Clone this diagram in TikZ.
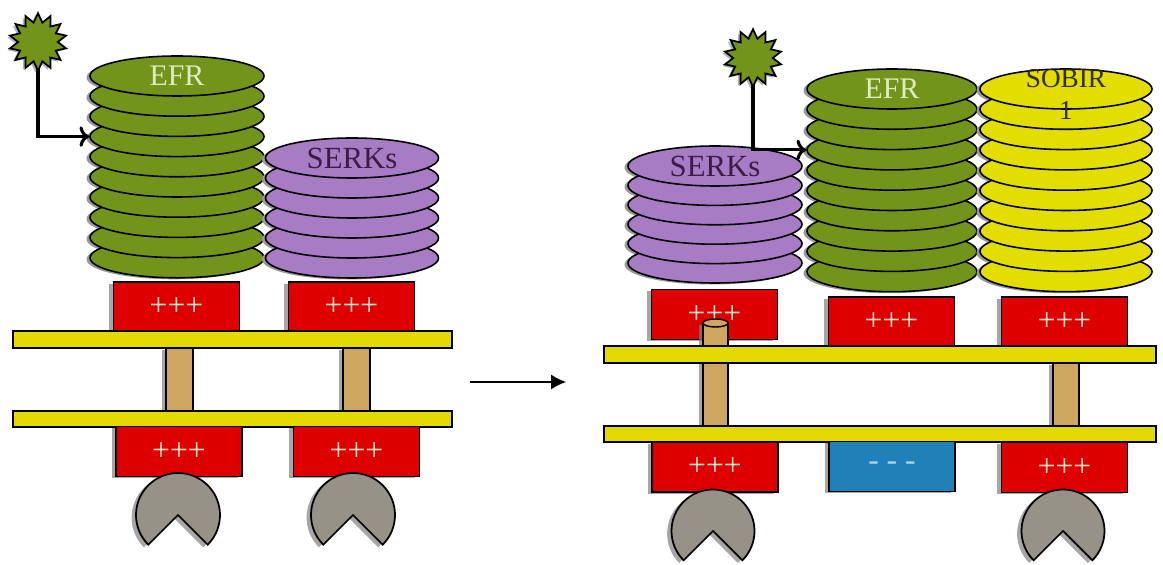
\documentclass[tikz,border=0pt]{standalone}
\usepackage{fontspec}
\setmainfont{Liberation Serif}
\usepackage{tikz}
\usepackage{xcolor}
\usetikzlibrary{positioning, shapes, shadows, arrows, arrows.meta}

\definecolor{efrgreen}{RGB}{114,148,26}
\definecolor{serkpurple}{RGB}{168,124,196}
\definecolor{sobiryellow}{RGB}{228,222,0}
\definecolor{boxred}{RGB}{222,0,0}
\definecolor{membrane}{RGB}{226,218,0}
\definecolor{stalk}{RGB}{206,166,96}
\definecolor{jawgray}{RGB}{150,146,136}
\definecolor{minusblue}{RGB}{32,128,184}
\definecolor{pluscream}{RGB}{255,230,205}
\definecolor{efrtext}{RGB}{222,236,196}
\definecolor{serktext}{RGB}{60,28,70}
\definecolor{sobirtext}{RGB}{50,46,0}

\tikzset{
    disk/.style={ellipse, draw=black, line width=0.9pt, inner sep=0pt, minimum height=0.8cm},
    charge/.style={rectangle, draw=black, line width=0.8pt, fill=boxred, minimum width=2.52cm, minimum height=1cm,
        text=pluscream, font=\fontsize{18}{18}\selectfont,
        drop shadow={shadow xshift=-2.5pt, shadow yshift=-1pt, opacity=0.7}},
    bar/.style={fill=membrane, draw=black, line width=0.8pt},
    stem/.style={fill=stalk, draw=black, line width=0.8pt,
        drop shadow={shadow xshift=-2.5pt, shadow yshift=-1pt, opacity=0.7}},
    jaw/.style={fill=jawgray, draw=black, line width=1pt,
        drop shadow={shadow xshift=-2.5pt, shadow yshift=-1.5pt, opacity=0.7}},
    spark/.style={star, star points=14, star point ratio=1.45, minimum size=1.15cm, inner sep=0pt,
        fill=efrgreen, draw=black, line width=1pt,
        drop shadow={shadow xshift=-1.5pt, shadow yshift=-1pt, opacity=0.6}},
    signal/.style={line width=1.8pt, ->}
}

% name, x, y of top disk, step, number of disks, width, fill
\newcommand{\diskstack}[7]{%
    \foreach \i in {#5,...,1}
        \fill[black!40] ({#2-0.07}, {#3-#4*(\i-1)-0.03}) ellipse ({#6/2} and 0.4);
    \foreach \i in {#5,...,1}
        \node[disk, fill=#7, minimum width=#6cm] (#1-\i) at (#2, {#3-#4*(\i-1)}) {};
}

\begin{document}
\begin{tikzpicture}
    \useasboundingbox (0,0) rectangle (23.26,-11.30);

    % before
    \diskstack{efrL}{3.54}{-1.52}{0.404}{10}{3.48}{efrgreen}
    \diskstack{serkL}{7.04}{-3.16}{0.4}{6}{3.46}{serkpurple}
    \node[text=efrtext, font=\fontsize{17}{17}\selectfont] (efrLname) at (efrL-1) {EFR};
    \node[text=serktext, font=\fontsize{17.5}{17.5}\selectfont] (serkLname) at (serkL-1) {SERKs};

    \coordinate (sigL) at (0.76,-0.84);
    \draw[signal] (sigL) |- (efrL-4.west);
    \node[spark] (starL) at (sigL) {};

    \node[charge] (outL1) at (3.53,-6.14) {+++};
    \node[charge] (outL2) at (7.03,-6.14) {+++};
    \draw[stem] (3.32,-6.96) rectangle (3.86,-8.22);
    \draw[stem] (6.86,-6.96) rectangle (7.40,-8.22);
    \draw[bar] (0.26,-6.62) rectangle (9.04,-6.96);
    \draw[bar] (0.26,-8.22) rectangle (9.04,-8.54);
    \node[charge] (inL1) at (3.58,-9.03) {+++};
    \node[charge] (inL2) at (7.13,-9.03) {+++};
    \draw[jaw] (3.56,-10.3) -- ++(-45:0.84) arc[start angle=-45, end angle=225, radius=0.84] -- cycle;
    \draw[jaw] (7.06,-10.3) -- ++(-45:0.84) arc[start angle=-45, end angle=225, radius=0.84] -- cycle;

    % step between the two states
    \coordinate (stepfrom) at (9.4,-7.64);
    \coordinate (stepto) at (11.32,-7.64);
    \draw[line width=0.7pt, -{Latex[length=8.5pt, width=8.5pt]}] (stepfrom) -- (stepto);

    % after
    \diskstack{serkR}{14.3}{-3.32}{0.388}{6}{3.48}{serkpurple}
    \diskstack{efrR}{17.84}{-1.78}{0.406}{10}{3.4}{efrgreen}
    \diskstack{sobR}{21.32}{-1.78}{0.406}{10}{3.44}{sobiryellow}
    \node[text=serktext, font=\fontsize{17.5}{17.5}\selectfont] (serkRname) at (serkR-1) {SERKs};
    \node[text=efrtext, font=\fontsize{17}{17}\selectfont] (efrRname) at (efrR-1) {EFR};
    \node[text=sobirtext, font=\fontsize{15.5}{18}\selectfont, align=center] (sobRname) at (21.32,-1.89) {SOBIR\\1};

    \coordinate (sigR) at (15.06,-1.16);
    \draw[signal] (sigR) |- (efrR-4.west);
    \node[spark] (starR) at (sigR) {};

    \node[charge] (outR1) at (14.29,-6.29) {+++};
    \node[charge] (outR2) at (17.83,-6.44) {+++};
    \node[charge] (outR3) at (21.29,-6.44) {+++};
    \draw[stem] (14.06,-6.46) rectangle (14.56,-8.52);
    \draw[fill=stalk, draw=black, line width=0.8pt] (14.31,-6.46) ellipse (0.25 and 0.08);
    \draw[stem] (21.06,-7.26) rectangle (21.58,-8.52);
    \draw[bar] (12.08,-6.92) rectangle (23.12,-7.26);
    \draw[bar] (12.08,-8.52) rectangle (23.12,-8.84);
    \node[charge] (inR1) at (14.30,-9.34) {+++};
    \node[charge, fill=minusblue, text=minusblue!35!white] (inR2) at (17.84,-9.33) {- - -};
    \node[charge] (inR3) at (21.29,-9.35) {+++};
    \draw[jaw] (14.26,-10.62) -- ++(-45:0.83) arc[start angle=-45, end angle=225, radius=0.83] -- cycle;
    \draw[jaw] (21.26,-10.62) -- ++(-45:0.83) arc[start angle=-45, end angle=225, radius=0.83] -- cycle;
\end{tikzpicture}
\end{document}
